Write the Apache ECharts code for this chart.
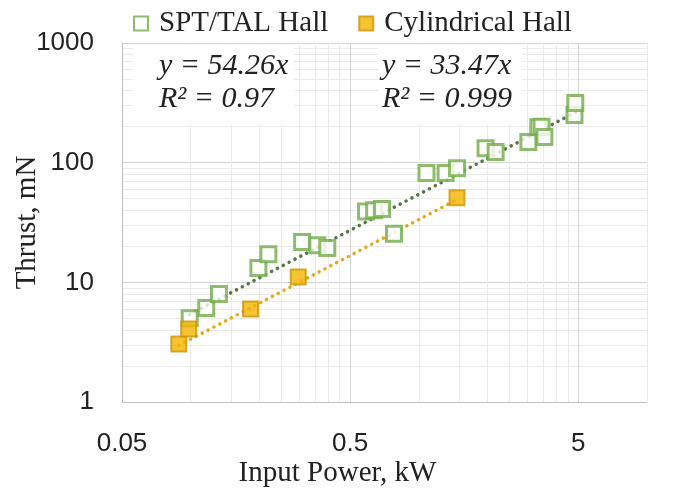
<!DOCTYPE html>
<html>
<head>
<meta charset="utf-8" />
<script src="https://cdn.jsdelivr.net/npm/echarts@6/dist/echarts.min.js"></script>
<style>
  html, body { margin: 0; padding: 0; background: #fff; }
  #chart { width: 673px; height: 491px; }
</style>
</head>
<body>
<div id="chart"></div>
<script>
// SPT/TAL Hall
const sptPower = [0.099, 0.117, 0.133, 0.198, 0.219, 0.308, 0.359, 0.397, 0.587, 0.637, 0.69, 0.778, 1.08, 1.31, 1.47, 1.96, 2.17, 3.02, 3.34, 3.45, 3.55, 4.81, 4.85];
const sptThrust = [5.0, 6.1, 8.0, 13.2, 17.2, 21.7, 20.4, 19.4, 39, 40, 41, 25.5, 82, 82, 90, 132, 123, 149, 198, 200, 164, 250, 315];
// Cylindrical Hall
const cylPower = [0.0887, 0.098, 0.183, 0.296, 1.47];
const cylThrust = [3.05, 4.07, 6.0, 11.1, 51];
// trendline end points (y = 54.26x, y = 33.47x)
const sptTrend = [[0.099, 5.4], [4.9, 266]];
const cylTrend = [[0.0887, 2.97], [1.47, 49.2]];

const xLabels = [0.05, 0.5, 5];
const xGrid = [0.05, 0.1, 0.15, 0.2, 0.25, 0.3, 0.35, 0.4, 0.45, 0.5, 1, 1.5, 2, 2.5, 3, 3.5, 4, 4.5, 5, 10];
const yLabels = [1, 10, 100, 1000];
const yGrid = [1, 2, 3, 4, 5, 6, 7, 8, 9, 10, 20, 30, 40, 50, 60, 70, 80, 90, 100, 200, 300, 400, 500, 600, 700, 800, 900, 1000];

const serif = '"Liberation Serif", "Times New Roman", serif';
const sans = '"Liberation Sans", Arial, sans-serif';
const major = "#d4d4d4";
const minor = "#ebebeb";
const gridColors = [major, minor, minor, minor, minor, minor, minor, minor, minor];

function zip(xs, ys) {
  return xs.map((x, i) => [x, ys[i]]);
}

let myChart = echarts.init(document.getElementById("chart"));
myChart.setOption({
  animation: false,
  grid: {
    left: 122,
    right: 26,
    top: 43,
    bottom: 89,
    containLabel: false,
    outerBoundsMode: "none",
  },
  legend: {
    top: 4,
    left: 128,
    itemWidth: 14,
    itemHeight: 14,
    itemGap: 30,
    data: ["SPT/TAL Hall", "Cylindrical Hall"],
    textStyle: {
      fontFamily: serif,
      fontSize: 29,
      color: "#222",
      padding: [0, 0, 0, 6],
    },
  },
  xAxis: {
    type: "log",
    logBase: 10,
    min: 0.05,
    max: 10,
    name: "Input Power, kW",
    nameLocation: "middle",
    nameGap: 57,
    nameMoveOverlap: false,
    nameTextStyle: {
      fontFamily: serif,
      fontSize: 29,
      color: "#222",
      padding: [0, 94, 0, 0],
    },
    axisLine: { show: true, lineStyle: { color: "#bfbfbf", width: 1 } },
    axisTick: { show: false, customValues: xGrid },
    axisLabel: {
      customValues: xLabels,
      margin: 29,
      fontFamily: sans,
      fontSize: 26,
      color: "#222",
      formatter: (v) => String(+Number(v).toPrecision(3)),
    },
    splitLine: { show: true, lineStyle: { color: gridColors, width: 1 } },
  },
  yAxis: {
    type: "log",
    logBase: 10,
    min: 1,
    max: 1000,
    name: "Thrust, mN",
    nameLocation: "middle",
    nameGap: 80,
    nameMoveOverlap: false,
    nameTextStyle: {
      fontFamily: serif,
      fontSize: 29,
      color: "#222",
    },
    axisLine: { show: true, lineStyle: { color: "#bfbfbf", width: 1 } },
    axisTick: { show: false, customValues: yGrid },
    axisLabel: {
      customValues: yLabels,
      margin: 28,
      fontFamily: sans,
      fontSize: 26,
      color: "#222",
      formatter: (v) => String(Math.round(v)),
    },
    splitLine: { show: true, lineStyle: { color: gridColors, width: 1 } },
  },
  graphic: [
    {
      type: "text",
      left: 133,
      top: 45,
      z: 5,
      style: {
        text: "y = 54.26x\nR² = 0.97",
        font: "italic 30px " + serif,
        fill: "#222",
        align: "center",
        lineHeight: 33,
        backgroundColor: "#fff",
        padding: [5, 6, 8, 26],
      },
    },
    {
      type: "text",
      left: 378,
      top: 45,
      z: 5,
      style: {
        text: "y = 33.47x\nR² = 0.999",
        font: "italic 30px " + serif,
        fill: "#222",
        align: "center",
        lineHeight: 33,
        backgroundColor: "#fff",
        padding: [5, 10, 8, 4],
      },
    },
  ],
  series: [
    {
      name: "SPT/TAL Hall",
      type: "scatter",
      symbol: "rect",
      symbolSize: 15,
      itemStyle: { color: "#fff", borderColor: "#70ad47", borderWidth: 3 },
      data: zip(sptPower, sptThrust),
      z: 3,
    },
    {
      name: "Cylindrical Hall",
      type: "scatter",
      symbol: "rect",
      symbolSize: 15,
      itemStyle: { color: "#f4b400", borderColor: "#cc9600", borderWidth: 2 },
      data: zip(cylPower, cylThrust),
      z: 3,
    },
    {
      type: "line",
      showSymbol: false,
      silent: true,
      data: sptTrend,
      lineStyle: { color: "#55763f", width: 3.5, type: [0.1, 6.5], cap: "round" },
      z: 2,
    },
    {
      type: "line",
      showSymbol: false,
      silent: true,
      data: cylTrend,
      lineStyle: { color: "#e6a817", width: 3.5, type: [0.1, 6.5], cap: "round" },
      z: 2,
    },
  ],
});
</script>
</body>
</html>
